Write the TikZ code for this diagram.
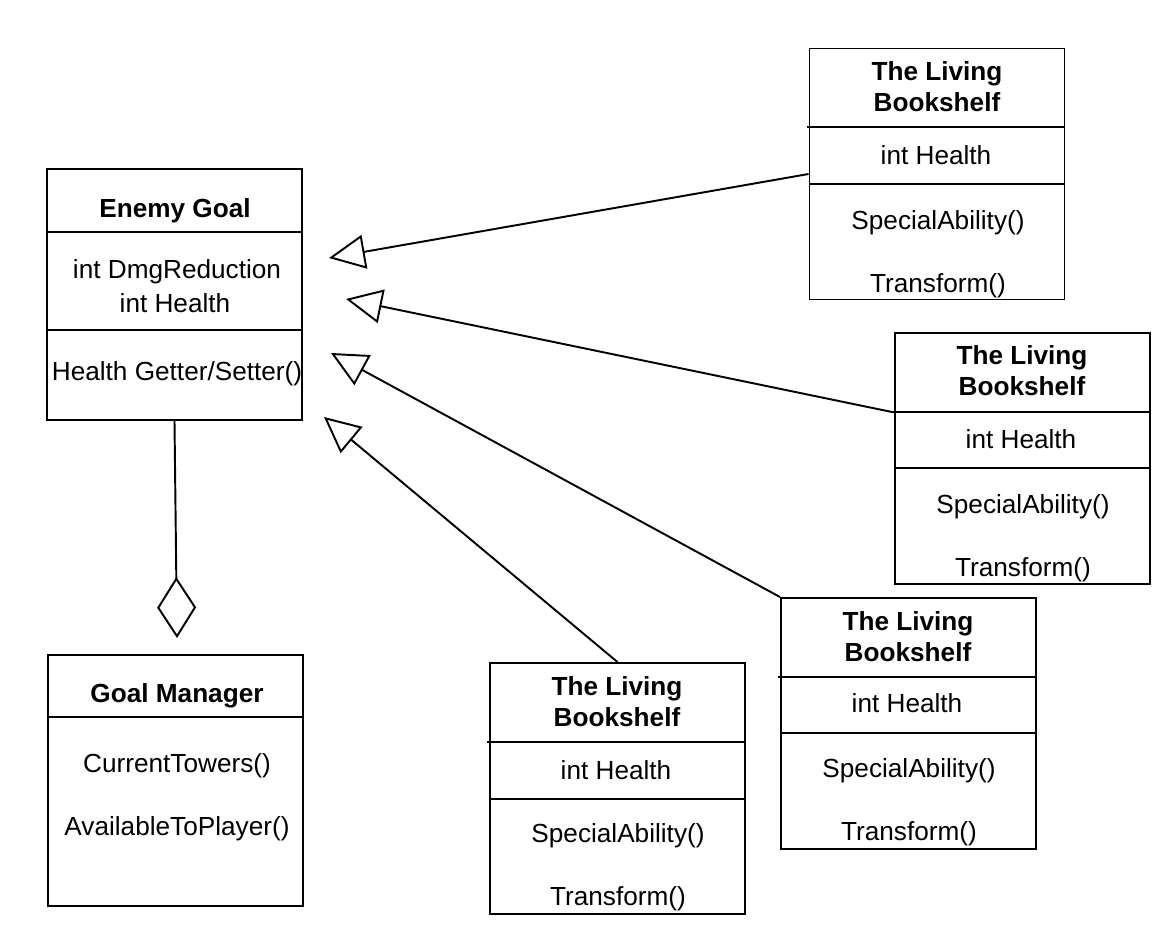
\documentclass[tikz,border=0pt]{standalone}
\usepackage{fontspec}
\setmainfont{Liberation Sans}
\usetikzlibrary{arrows.meta, positioning}

\begin{document}
\begin{tikzpicture}[
    x=0.02cm, y=-0.02cm, line width=1.1pt,
    classbox/.style={draw, minimum width=5.1cm, minimum height=5.02cm,
                     inner sep=0pt},
    member/.style={font=\fontsize{14.9}{17.6}\selectfont, inner sep=0pt,
                   align=center},
    classname/.style={member, font=\fontsize{14.9}{17.6}\selectfont\bfseries},
    inherit/.style={-{Triangle[open, fill=white, length=0.72cm, width=0.68cm]}},
    aggregate/.style={-{Diamond[open, fill=white, length=1.22cm, width=0.78cm]}}
  ]
  \useasboundingbox (0,0) rectangle (1171,943);

  % Enemy Goal
  \node[classbox] (goal) at (174.5,294.5) {};
  \draw (47,232) -- (302,232);
  \draw (47,330) -- (302,330);
  \node[classname] (goaltitle) at (175,211) {Enemy Goal};
  \node[member] (goaldmg) at (177,272) {int DmgReduction};
  \node[member] (goalhp) at (175,303) {int Health};
  \node[member] (goalget) at (177,374) {Health Getter/Setter()};

  % Goal Manager
  \node[classbox] (manager) at (175.5,780.5) {};
  \draw (48,717) -- (303,717);
  \node[classname] (managertitle) at (177,696) {Goal Manager};
  \node[member] (managertow) at (177,766) {CurrentTowers()};
  \node[member] (manageravail) at (177,829) {AvailableToPlayer()};

  % The Living Bookshelf (top)
  \node[classbox] (shelfA) at (937,174) {};
  \draw (807,127) -- (1064,127);
  \draw (810,184) -- (1064,184);
  \node[classname] (shelfAtitle) at (937,87) {The Living\\Bookshelf};
  \node[member] (shelfAhp) at (936,155) {int Health};
  \node[member] (shelfAspec) at (938,223) {SpecialAbility()};
  \node[member] (shelfAtrans) at (938,286) {Transform()};

  % The Living Bookshelf (right)
  \node[classbox] (shelfB) at (1022.5,458.5) {};
  \draw (892,412) coordinate (shelfBattr) -- (1150,412);
  \draw (895,468) -- (1150,468);
  \node[classname] (shelfBtitle) at (1022,371) {The Living\\Bookshelf};
  \node[member] (shelfBhp) at (1021,439) {int Health};
  \node[member] (shelfBspec) at (1023,507) {SpecialAbility()};
  \node[member] (shelfBtrans) at (1023,570) {Transform()};

  % The Living Bookshelf (middle)
  \node[classbox] (shelfC) at (908.5,723.5) {};
  \draw (778,677) -- (1036,677);
  \draw (781,733) -- (1036,733);
  \node[classname] (shelfCtitle) at (908,637) {The Living\\Bookshelf};
  \node[member] (shelfChp) at (907,703) {int Health};
  \node[member] (shelfCspec) at (909,771) {SpecialAbility()};
  \node[member] (shelfCtrans) at (909,834) {Transform()};

  % The Living Bookshelf (bottom)
  \node[classbox] (shelfD) at (617.5,788.5) {};
  \draw (487,742) -- (745,742);
  \draw (490,799) -- (745,799);
  \node[classname] (shelfDtitle) at (617,702) {The Living\\Bookshelf};
  \node[member] (shelfDhp) at (616,770) {int Health};
  \node[member] (shelfDspec) at (618,836) {SpecialAbility()};
  \node[member] (shelfDtrans) at (618,899) {Transform()};

  % connectors
  \coordinate (tipA) at (329,258);
  \coordinate (tipB) at (346,299);
  \coordinate (tipC) at (331,353);
  \coordinate (tipD) at (324,417);
  \coordinate (diamondtip) at (177,638);
  \draw[inherit] (shelfA.west) -- (tipA);
  \draw[inherit] (shelfBattr) -- (tipB);
  \draw[inherit] (shelfC.north west) -- (tipC);
  \draw[inherit] (shelfD.north) -- (tipD);
  \draw[aggregate] (goal.south) -- (diamondtip);
\end{tikzpicture}
\end{document}
